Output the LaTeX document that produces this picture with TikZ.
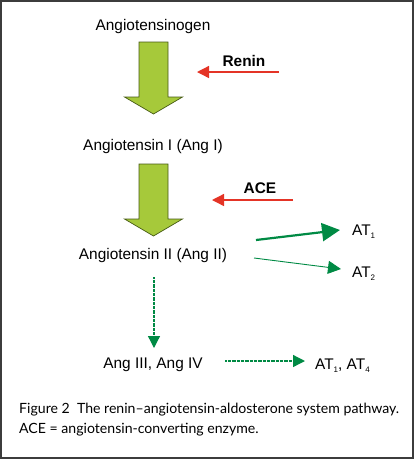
\documentclass[tikz,border=0pt]{standalone}
\usepackage{fontspec}
\setmainfont{Liberation Sans}
\newfontfamily\capfont[Ligatures=TeX]{Lato}
\usetikzlibrary{positioning, arrows.meta}

\definecolor{limefill}{RGB}{166,201,58}
\definecolor{limeedge}{RGB}{70,90,20}
\definecolor{enzred}{RGB}{228,52,38}
\definecolor{recgreen}{RGB}{0,138,68}
\definecolor{framegray}{RGB}{60,60,60}

\newcommand\recsub[1]{\raisebox{-0.45ex}{\fontsize{8}{8}\selectfont #1}}

\begin{document}
\begin{tikzpicture}[
    x=1pt, y=-1pt,
    lbl/.style={font=\fontsize{15.4}{18}\selectfont, inner sep=0pt, anchor=base},
    enz/.style={lbl, font=\fontsize{15.4}{18}\selectfont\bfseries},
    enzarr/.style={enzred, line width=1.3pt, -{Triangle[length=12pt, width=12pt]}},
    recarr/.style={recgreen, -{Triangle[length=#1, width=#1]}},
    dotarr/.style={recarr=12pt, line width=1.3pt, dash pattern=on 0.8pt off 0.5pt},
    fatdown/.pic={
      \draw[limeedge, fill=limefill, line width=0.7pt]
        (-14.5,0) -- (14.5,0) -- (14.5,55) -- (29,55) -- (0,72)
        -- (-29,55) -- (-14.5,55) -- (-14.5,0) -- cycle;
    },
    capt/.style={anchor=base west, inner sep=0pt, font=\capfont\fontsize{14.1}{16}\selectfont}
  ]

  \useasboundingbox (0,0) rectangle (414,459);
  \draw[framegray, line width=2pt] (1,1) rectangle (413,458);

  % main chain
  \node[lbl] (agen) at (153,30.5) {Angiotensinogen};
  \node[lbl] (ang1) at (153,150) {Angiotensin I (Ang I)};
  \node[lbl] (ang2) at (153,259) {Angiotensin II (Ang II)};
  \node[lbl] (ang34) at (153,368) {Ang III, Ang IV};

  \pic at (153.5,42) {fatdown};
  \pic at (153.5,164) {fatdown};

  % enzymes
  \node[enz] (renin) at (244,66) {Renin};
  \coordinate (renin-s) at (279,72);
  \coordinate (renin-e) at (197,72);
  \draw[enzarr] (renin-s) -- (renin-e);

  \node[enz] (ace) at (260,193) {ACE};
  \coordinate (ace-s) at (293,200);
  \coordinate (ace-e) at (212,200);
  \draw[enzarr] (ace-s) -- (ace-e);

  % receptors
  \node[lbl, anchor=base west] (at1) at (352,235) {AT\recsub{1}};
  \node[lbl, anchor=base west] (at2) at (352,277) {AT\recsub{2}};
  \node[lbl, anchor=base west] (at14) at (315,369) {AT\recsub{1}, AT\recsub{4}};

  \coordinate (a1-s) at (256,240);
  \coordinate (a1-e) at (340,230);
  \draw[recarr=18pt, line width=2.2pt] (a1-s) -- (a1-e);

  \coordinate (a2-s) at (254,258);
  \coordinate (a2-e) at (341,269);
  \draw[recarr=13pt, line width=0.9pt] (a2-s) -- (a2-e);

  \coordinate (d-s) at (154,277);
  \coordinate (d-e) at (154,348);
  \draw[dotarr] (d-s) -- (d-e);

  \coordinate (h-s) at (225,361);
  \coordinate (h-e) at (305,361);
  \draw[dotarr] (h-s) -- (h-e);

  % caption
  \node[capt] (cap1) at (19,413)
    {Figure 2\ \ The renin–angiotensin-aldosterone system pathway.};
  \node[capt] (cap2) at (19,433)
    {ACE = angiotensin-converting enzyme.};

\end{tikzpicture}
\end{document}
